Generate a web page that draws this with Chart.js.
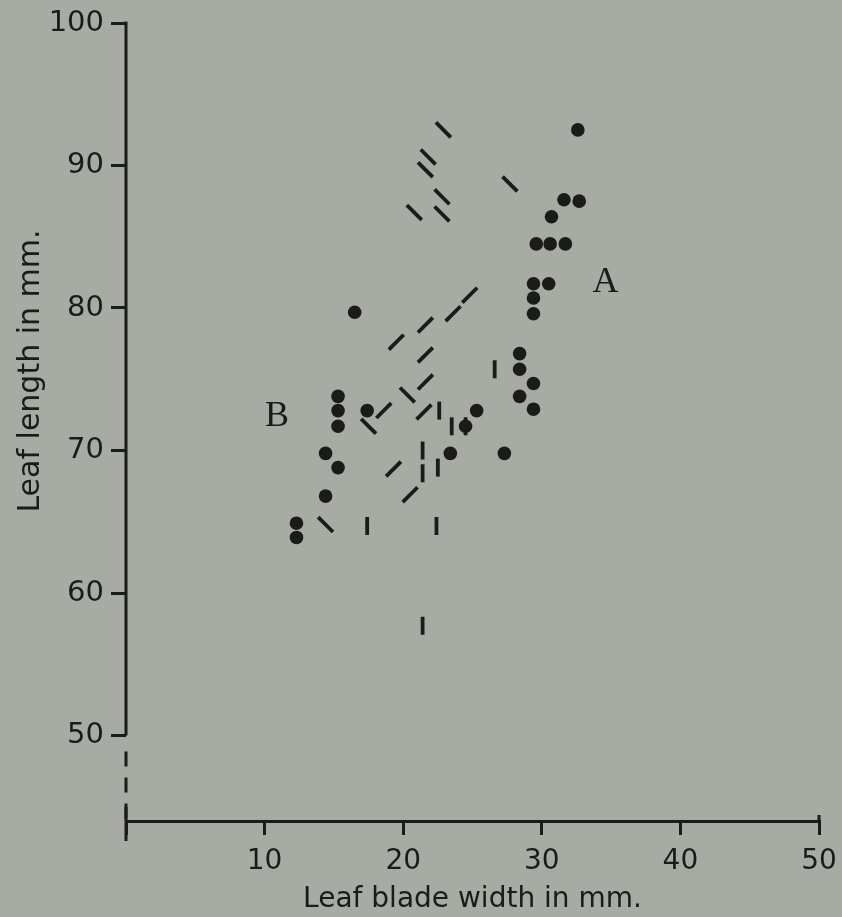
<!DOCTYPE html>
<html>
<head>
<meta charset="utf-8">
<script src="https://cdn.jsdelivr.net/npm/chart.js@4.4.1/dist/chart.umd.min.js"></script>
<style>
  html, body { margin: 0; padding: 0; background: #a8aba4; }
  #wrap { width: 842px; height: 917px; position: relative; }
</style>
</head>
<body>
<div id="wrap"><canvas id="leaf-scatter"></canvas></div>
<script>
// leaf blade width (x) and leaf length (y), in mm, per glyph type
var dotWidth  = [32.6, 31.6, 32.7, 30.7, 29.6, 30.6, 31.7, 29.4, 30.5, 29.4, 29.4, 28.4, 28.4, 29.4, 28.4, 29.4, 25.3, 24.5, 27.3, 23.4,
                 16.5, 15.3, 15.3, 15.3, 17.4, 14.4, 15.3, 14.4, 12.3, 12.3];
var dotLength = [92.5, 87.6, 87.5, 86.4, 84.5, 84.5, 84.5, 81.7, 81.7, 80.7, 79.6, 76.8, 75.7, 74.7, 73.8, 72.9, 72.8, 71.7, 69.8, 69.8,
                 79.7, 73.8, 72.8, 71.7, 72.8, 69.8, 68.8, 66.8, 64.9, 63.9];

var backWidth  = [22.9, 21.8, 21.6, 27.7, 22.8, 20.8, 22.8, 20.3, 17.5, 14.4];
var backLength = [92.5, 90.6, 89.7, 88.7, 87.8, 86.7, 86.6, 73.9, 71.7, 64.8];

var slashWidth  = [24.8, 23.6, 21.6, 19.5, 21.6, 21.6, 18.6, 21.5, 19.3, 20.5];
var slashLength = [80.9, 79.6, 78.8, 77.6, 76.7, 74.8, 72.8, 72.7, 68.7, 66.9];

var barWidth  = [26.6, 22.6, 23.5, 24.5, 21.4, 21.4, 22.5, 17.4, 22.4, 21.4];
var barLength = [75.7, 72.8, 71.7, 71.7, 70.0, 68.4, 68.8, 64.7, 64.7, 57.7];

var xTicks = [0, 10, 20, 30, 40, 50];
var yTicks = [50, 60, 70, 80, 90, 100];

// group labels, placed in data units
var groupLabels = [
  { text: 'A', x: 34.6, y: 81.8 },
  { text: 'B', x: 10.9, y: 72.4 }
];

var ink = '#1b1b1a';

function pairs(xs, ys) {
  return xs.map(function (v, i) { return { x: v, y: ys[i] }; });
}

var axisExtras = {
  id: 'axisExtras',
  afterDraw: function (chart) {
    var ctx = chart.ctx, xs = chart.scales.x, ys = chart.scales.y;
    var x0 = xs.getPixelForValue(0), x50 = xs.getPixelForValue(50);
    var bottom = ys.bottom;
    ctx.save();
    ctx.strokeStyle = ink;
    ctx.lineWidth = 3;
    // solid part of the y axis
    ctx.beginPath();
    ctx.moveTo(x0, ys.getPixelForValue(100) - 1.5);
    ctx.lineTo(x0, ys.getPixelForValue(50));
    ctx.stroke();
    // broken part below 50
    ctx.setLineDash([15, 11]);
    ctx.beginPath();
    ctx.moveTo(x0, ys.getPixelForValue(50) + 16);
    ctx.lineTo(x0, bottom);
    ctx.stroke();
    ctx.setLineDash([]);
    // end stubs of the x axis
    ctx.beginPath();
    ctx.moveTo(x0, bottom - 14); ctx.lineTo(x0, bottom + 20);
    ctx.moveTo(x50, bottom - 6); ctx.lineTo(x50, bottom);
    ctx.stroke();

    // y title
    ctx.fillStyle = ink;
    ctx.font = '30px "DejaVu Sans"';
    ctx.textAlign = 'center';
    ctx.textBaseline = 'middle';
    ctx.translate(31, 371);
    ctx.rotate(-Math.PI / 2);
    ctx.fillText('Leaf length in mm.', 0, 0);
    ctx.restore();

    ctx.save();
    ctx.fillStyle = ink;
    ctx.font = '36px "Liberation Serif"';
    ctx.textAlign = 'center';
    ctx.textBaseline = 'middle';
    groupLabels.forEach(function (g) {
      ctx.fillText(g.text, xs.getPixelForValue(g.x), ys.getPixelForValue(g.y));
    });
    ctx.restore();
  }
};

var ctx = document.getElementById('leaf-scatter').getContext('2d');
var myChart = new Chart(ctx, {
  type: 'scatter',
  data: {
    datasets: [{
      label: 'vertical',
      data: pairs(barWidth, barLength),
      pointStyle: 'line',
      rotation: 90,
      radius: 9,
      borderWidth: 3.8,
      borderColor: ink
    }, {
      label: 'backslash',
      data: pairs(backWidth, backLength),
      pointStyle: 'line',
      rotation: 45,
      radius: 10.5,
      borderWidth: 3.8,
      borderColor: ink
    }, {
      label: 'slash',
      data: pairs(slashWidth, slashLength),
      pointStyle: 'line',
      rotation: -45,
      radius: 10.5,
      borderWidth: 3.8,
      borderColor: ink
    }, {
      label: 'dot',
      data: pairs(dotWidth, dotLength),
      pointStyle: 'circle',
      radius: 6.8,
      borderWidth: 0,
      backgroundColor: ink,
      borderColor: ink
    }]
  },
  options: {
    responsive: true,
    maintainAspectRatio: false,
    animation: false,
    events: [],
    layout: { padding: { top: 23, right: 23, left: 0, bottom: 0 } },
    plugins: { legend: { display: false }, tooltip: { enabled: false } },
    scales: {
      x: {
        type: 'linear',
        min: 0,
        max: 50,
        afterFit: function (s) { s.height = 96; s.paddingLeft = 0; s.paddingRight = 0; },
        afterBuildTicks: function (s) { s.ticks = xTicks.map(function (v) { return { value: v }; }); },
        grid: { drawOnChartArea: false, color: ink, lineWidth: 3, tickLength: 14 },
        border: { display: true, color: ink, width: 3 },
        ticks: {
          color: ink,
          font: { size: 28, family: '"DejaVu Sans"' },
          padding: 10,
          maxRotation: 0,
          callback: function (v) { return v === 0 ? '' : v; }
        },
        title: {
          display: true,
          text: 'Leaf blade width in mm.',
          color: ink,
          font: { size: 28, family: '"DejaVu Sans"' },
          padding: { top: 0, bottom: 0 }
        }
      },
      y: {
        type: 'linear',
        min: 44,
        max: 100,
        afterFit: function (s) { s.width = 126; s.paddingTop = 0; s.paddingBottom = 0; },
        afterBuildTicks: function (s) { s.ticks = yTicks.map(function (v) { return { value: v }; }); },
        grid: { drawOnChartArea: false, color: ink, lineWidth: 3, tickLength: 15 },
        border: { display: false },
        ticks: {
          color: ink,
          font: { size: 29, family: '"DejaVu Sans"' },
          padding: 7
        }
      }
    }
  },
  plugins: [axisExtras]
});
</script>
</body>
</html>
